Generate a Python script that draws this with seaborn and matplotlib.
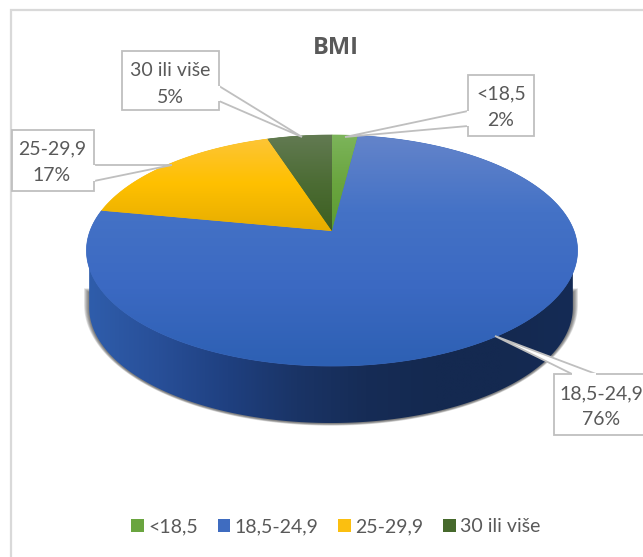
import numpy as np
import matplotlib
matplotlib.use("Agg")
import matplotlib.pyplot as plt
from matplotlib.patches import Polygon, Patch, Rectangle
import seaborn as sns

# data
categories = ["<18,5", "18,5-24,9", "25-29,9", "30 ili više"]
values = [2, 76, 17, 5]
title = "BMI"

sns.set_theme(style="white")
plt.rcParams["font.family"] = ["Lato", "DejaVu Sans"]

TEXT = "#595959"
FS = 14.0
W, H = 643, 557
fig = plt.figure(figsize=(W / 100, H / 100), dpi=100, facecolor="white")
ax = fig.add_axes([0, 0, 1, 1])
ax.set_xlim(0, W)
ax.set_ylim(H, 0)
ax.axis("off")

# perspective disc geometry (pixel layout)
CX, CY = 332.0, 231.0
K, A, B = 0.169, 112.2, 242.0
DEPTH = 57.0


def project(turn):
    """Map clockwise-from-top fraction of the pie onto the tilted disc."""
    t = 2 * np.pi * np.asarray(turn)
    u, v = np.sin(t), np.cos(t)
    d = 1 + K * v
    return np.column_stack([CX + B * u / d, CY - A * v / d])


rim = project(np.linspace(0, 1, 721))

# chart frame
ax.add_patch(Rectangle((11, 10), 700, 700, fc="white", ec="#d9d9d9", lw=1.6, zorder=0))

# wall outline: rim shifted down, slightly narrower
low = rim.copy()
low[:, 0] = CX - 1 + (low[:, 0] - CX) * 0.985
low[:, 1] += DEPTH
upper_y = rim[:, 1].mean()
left_i, right_i = low[:, 0].argmin(), low[:, 0].argmax()
lower_half = low[right_i:left_i + 1]
wall = np.vstack([[low[right_i, 0], upper_y], lower_half, [low[left_i, 0], upper_y]])

# soft shadow (only below the rim's widest part)
shadow_base = np.vstack([[low[right_i, 0], 292], lower_half, [low[left_i, 0], 292]])
mid = shadow_base.mean(axis=0)
for i in range(6, 0, -1):
    s = shadow_base.copy()
    s[:, 0] = mid[0] + (s[:, 0] - mid[0]) * (1 + i * 0.0035)
    s[:, 1] = mid[1] + (s[:, 1] - mid[1]) * (1 + i * 0.008) + 0.5
    ax.add_patch(Polygon(s, closed=True, fc="#222222", ec="none", alpha=0.13, zorder=1))


def gradient(poly, colors, horizontal=False, span=None, zorder=2):
    cmap = sns.blend_palette(colors, as_cmap=True)
    g = np.linspace(0, 1, 256)
    g = g[None, :] if horizontal else g[:, None]
    xmin, xmax = poly[:, 0].min(), poly[:, 0].max()
    ymin, ymax = poly[:, 1].min(), poly[:, 1].max()
    if span is not None:
        ymin, ymax = span
    im = ax.imshow(g, cmap=cmap, extent=[xmin, xmax, ymax, ymin], aspect="auto",
                   interpolation="bilinear", zorder=zorder, vmin=0, vmax=1)
    im.set_clip_path(Polygon(poly, closed=True, transform=ax.transData))
    return im


# wall
gradient(wall, ["#2f5dab", "#284f98", "#1f4080", "#1a3466", "#162c56", "#142950", "#142950", "#152b55"],
         horizontal=True, zorder=2)

# top face
face_colors = [
    ["#7cb45a", "#6aa53f", "#5c9c33"],
    ["#6484ca", "#4472c6", "#3b69c2", "#2d60b3"],
    ["#fdc53a", "#ffc000", "#e6ad00"],
    ["#627a52", "#4c6c34", "#3c5f20"],
]
edge_colors = ["#70ad47", "#3f6cc0", "#f8bd14", "#50703a"]
fractions = np.asarray(values, dtype=float) / np.sum(values)
starts = np.concatenate([[0], np.cumsum(fractions)[:-1]])
top, bottom = rim[:, 1].min(), rim[:, 1].max()
for f, s0, cols, ec in zip(fractions, starts, face_colors, edge_colors):
    arc = project(np.linspace(s0, s0 + f, max(int(f * 720), 8)))
    poly = np.vstack([[CX, CY], arc])
    ax.add_patch(Polygon(poly, closed=True, fc=ec, ec=ec, lw=0.5, zorder=2.5))
    gradient(poly, cols, span=(top, CY) if f < 0.5 else (top, bottom), zorder=3)

# callouts: box (x0, y0, x1, y1), tail base points, tip, text centre (x, y)
BOX = "#bfbfbf"
callouts = [
    ((468, 75, 534, 136), [(468, 111), (468, 126)], (345, 137), (501, 107), 0),
    ((554, 374, 660, 435), [(572, 374), (596, 374)], (495, 336), (601.5, 406.5), 1),
    ((12, 130, 94, 191), [(94, 165), (94, 181)], (172, 165), (52, 162), 2),
    ((122, 51, 219, 110), [(219, 86), (219, 101)], (302, 137), (170, 84), 3),
]
for (x0, y0, x1, y1), (p, q), tip, (cx, cy), idx in callouts:
    ax.add_patch(Polygon([p, tip, q], closed=True, fc="white", ec=BOX, lw=1.3, zorder=5, joinstyle="miter"))
    ax.add_patch(Rectangle((x0, y0), x1 - x0, y1 - y0, fc="white", ec=BOX, lw=1.3, zorder=5))
    ax.plot([p[0], q[0]], [p[1], q[1]], color="white", lw=1.6, zorder=5.5, solid_capstyle="butt")
    ax.text(cx, cy, f"{categories[idx]}\n{values[idx]}%", ha="center", va="center",
            color=TEXT, fontsize=FS, linespacing=1.65, zorder=6)

# title
ax.text(336, 47.5, title, ha="center", va="center", color=TEXT, fontsize=17, fontweight="bold",
        family=["Open Sans", "DejaVu Sans"])

# legend
legend_colors = ["#6aa53f", "#3f6cc0", "#fbbf10", "#46692c"]
handles = [Patch(fc=c, ec="none", label=l) for c, l in zip(legend_colors, categories)]
ax.legend(handles=handles, loc="center", bbox_to_anchor=(336 / W, 1 - 527 / H), ncol=4, frameon=False,
          fontsize=FS, labelcolor=TEXT, handlelength=0.64, handleheight=0.64, handletextpad=0.25,
          columnspacing=1.0, borderpad=0)

ax.set_xlim(0, W)
ax.set_ylim(H, 0)
fig.savefig("out.png", dpi=100, facecolor="white")
